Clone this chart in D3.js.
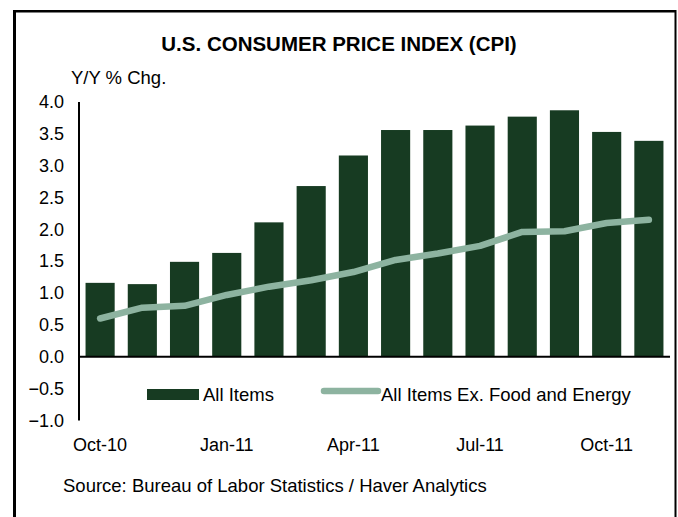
<!DOCTYPE html>
<html>
<head>
<meta charset="utf-8">
<script src="https://cdn.jsdelivr.net/npm/d3@7"></script>
<style>
  body { margin: 0; background: #fff; }
  text { font-family: "Liberation Sans", Arial, sans-serif; fill: #000; }
</style>
</head>
<body>
<div id="main"></div>
<script>
// months shown on the x axis (one bar per month)
var months = ["Oct-10","Nov-10","Dec-10","Jan-11","Feb-11","Mar-11","Apr-11",
              "May-11","Jun-11","Jul-11","Aug-11","Sep-11","Oct-11","Nov-11"]
var allItems = [1.16, 1.14, 1.49, 1.63, 2.11, 2.68, 3.16, 3.56, 3.56, 3.63, 3.77, 3.87, 3.53, 3.39]
var coreItems = [0.60, 0.77, 0.80, 0.97, 1.10, 1.20, 1.33, 1.52, 1.62, 1.74, 1.96, 1.97, 2.10, 2.15]
var yTicks = [-1.0, -0.5, 0.0, 0.5, 1.0, 1.5, 2.0, 2.5, 3.0, 3.5, 4.0]
var xTickLabels = ["Oct-10","Jan-11","Apr-11","Jul-11","Oct-11"]

var W = 678, H = 517
var barColor = "#173b22"
var lineColor = "#8db3a0"

var svg = d3.select("#main").append("svg").attr("width", W).attr("height", H)

// frame
svg.append("line").attr("x1", 14.5).attr("x2", 14.5).attr("y1", 10).attr("y2", H + 5).attr("stroke", "#000").attr("stroke-width", 3)
svg.append("line").attr("x1", 13).attr("x2", 676).attr("y1", 11.3).attr("y2", 11.3).attr("stroke", "#000").attr("stroke-width", 2.5)
svg.append("line").attr("x1", 675.5).attr("x2", 675.5).attr("y1", 10).attr("y2", H + 5).attr("stroke", "#000").attr("stroke-width", 2)

var x = d3.scaleBand().domain(months).range([79, 670]).paddingInner(0.31).paddingOuter(0.155)
var y = d3.scaleLinear().domain([-1, 4]).range([420.4, 102])

svg.append("text").attr("x", 339).attr("y", 51).attr("text-anchor", "middle")
  .style("font-weight", "bold").style("font-size", "20.5px")
  .text("U.S. CONSUMER PRICE INDEX (CPI)")

svg.append("text").attr("x", 71).attr("y", 84).style("font-size", "18.5px").text("Y/Y % Chg.")

// bars
svg.selectAll("rect.bar")
  .data(allItems)
  .enter()
  .append("rect")
  .attr("class", "bar")
  .attr("x", (d, i) => x(months[i]))
  .attr("width", x.bandwidth())
  .attr("y", d => y(d))
  .attr("height", d => y(0) - y(d))
  .attr("fill", barColor)

// core line
var line = d3.line()
  .x((d, i) => x(months[i]) + x.bandwidth() / 2)
  .y(d => y(d))
svg.append("path").datum(coreItems)
  .attr("d", line)
  .attr("fill", "none")
  .attr("stroke", lineColor)
  .attr("stroke-width", 6.5)
  .attr("stroke-linecap", "round")
  .attr("stroke-linejoin", "round")

// y axis
var yAxis = d3.axisLeft(y).tickValues(yTicks).tickFormat(d3.format(".1f")).tickSize(0).tickPadding(15)
var ya = svg.append("g").attr("transform", "translate(79,0)").call(yAxis)
ya.select(".domain").attr("stroke", "#000").attr("stroke-width", 2).attr("d", "M0," + y(4) + "V" + y(-1))
ya.selectAll("text").style("font-size", "18px").style("font-family", "Liberation Sans, Arial, sans-serif").attr("fill", "#000")

// zero line
svg.append("line").attr("x1", 78).attr("x2", 670).attr("y1", y(0)).attr("y2", y(0)).attr("stroke", "#000").attr("stroke-width", 2)

// x labels
var xAxis = d3.axisBottom(x).tickValues(xTickLabels).tickSize(0).tickPadding(0)
var xa = svg.append("g").attr("transform", "translate(0,438)").call(xAxis)
xa.select(".domain").remove()
xa.selectAll("text").style("font-size", "18px").style("font-family", "Liberation Sans, Arial, sans-serif").attr("fill", "#000")

// legend
var lg = svg.append("g")
lg.append("rect").attr("x", 147).attr("y", 389).attr("width", 52).attr("height", 11).attr("fill", barColor)
lg.append("text").attr("x", 203).attr("y", 401).style("font-size", "18.5px").text("All Items")
lg.append("line").attr("x1", 324).attr("x2", 378).attr("y1", 391).attr("y2", 391)
  .attr("stroke", lineColor).attr("stroke-width", 6.5).attr("stroke-linecap", "round")
lg.append("text").attr("x", 381).attr("y", 401).style("font-size", "18.5px").text("All Items Ex. Food and Energy")

svg.append("text").attr("x", 63).attr("y", 492).style("font-size", "18.5px")
  .text("Source: Bureau of Labor Statistics / Haver Analytics")
</script>
</body>
</html>
